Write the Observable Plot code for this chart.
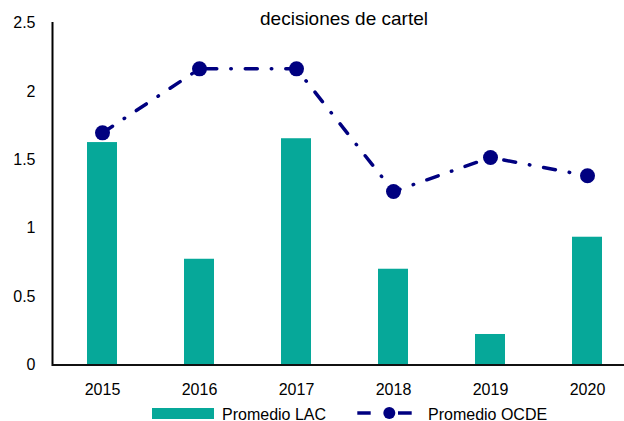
<!DOCTYPE html>
<html>
<head>
<meta charset="utf-8">
<script src="https://cdn.jsdelivr.net/npm/d3@7"></script>
<script src="https://cdn.jsdelivr.net/npm/@observablehq/plot@0.6"></script>
<style>
  html, body { margin: 0; padding: 0; background: #fff; }
  #wrap { position: relative; width: 624px; height: 421px; overflow: hidden; font-family: "Liberation Sans", Arial, sans-serif; color: #000; }
  #chart { position: absolute; left: 0; top: 0; }
  #chart svg [aria-label="frame"] { stroke-width: 2px; }
  #chart svg g[aria-label="y-axis"] path.domain { stroke-width: 2px; }
  .title { position: absolute; left: 0; width: 688px; top: 9px; text-align: center; font-size: 19px; line-height: 19px; }
  .leg { position: absolute; font-size: 16px; line-height: 16px; white-space: nowrap; }
</style>
</head>
<body>
<div id="wrap">
  <div id="chart"></div>
  <div class="title">decisiones de cartel</div>
  <div class="leg" style="left:152px; top:408px; width:62px; height:11px; background:#06A899;"></div>
  <div class="leg" style="left:222px; top:406.5px;">Promedio LAC</div>
  <svg class="leg" style="left:350px; top:400px;" width="70" height="21">
    <line x1="7.3" x2="20.7" y1="13" y2="13" stroke="#000080" stroke-width="3.5"/>
    <circle cx="39.3" cy="13" r="6" fill="#000080"/>
    <line x1="48" x2="61.7" y1="13" y2="13" stroke="#000080" stroke-width="3.5"/>
  </svg>
  <div class="leg" style="left:428px; top:406.5px;">Promedio OCDE</div>
</div>
<script>
const years = ["2015", "2016", "2017", "2018", "2019", "2020"];
const lac = [1.626, 0.773, 1.654, 0.70, 0.223, 0.934];
const ocde = [1.697, 2.165, 2.165, 1.268, 1.517, 1.383];
const yTicks = [0, 0.5, 1, 1.5, 2, 2.5];

const teal = "#06A899";
const navy = "#000080";

const data = years.map((y, i) => ({year: y, lac: lac[i], ocde: ocde[i]}));

const chart = Plot.plot({
  width: 624,
  height: 421,
  marginLeft: 52,
  marginRight: 0,
  marginTop: 22.5,
  marginBottom: 56.5,
  style: {fontFamily: "'Liberation Sans', Arial, sans-serif", fontSize: "16px", color: "#000", background: "transparent"},
  x: {domain: years, range: [52, 636.7], paddingInner: 0.686, paddingOuter: 0.343, label: null, tickSize: 0, tickPadding: 19},
  y: {domain: [0, 2.5], range: [364.5, 22.5], ticks: yTicks, tickFormat: d => String(d), tickSize: 0, tickPadding: 17, label: null, line: true},
  marks: [
    Plot.barY(data, {x: "year", y: "lac", fill: teal}),
    Plot.ruleY([0], {stroke: "#111", strokeWidth: 2}),
    Plot.line(data, {x: "year", y: "ocde", stroke: navy, strokeWidth: 3.5, strokeDasharray: "12,14,0.5,14", strokeLinecap: "round"}),
    Plot.dot(data, {x: "year", y: "ocde", r: 7.5, fill: navy, stroke: "none"})
  ]
});
document.getElementById("chart").appendChild(chart);
</script>
</body>
</html>
